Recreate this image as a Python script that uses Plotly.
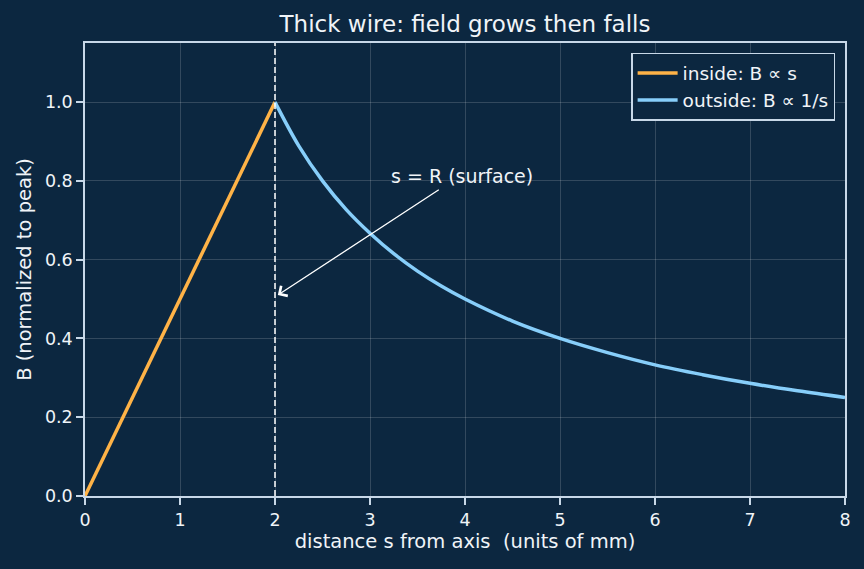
import plotly.graph_objects as go

# data
s_inside = [0.0, 2.0]
b_inside = [0.0, 1.0]
s_outside = [2.0, 2.25, 2.5, 2.75, 3.0, 3.25, 3.5, 3.75, 4.0, 4.5, 5.0, 5.5, 6.0, 6.5, 7.0, 7.5, 8.0]
b_outside = [1.0, 0.889, 0.8, 0.727, 0.667, 0.615, 0.571, 0.533, 0.5, 0.444, 0.4, 0.364, 0.333, 0.308, 0.286, 0.267, 0.25]
x_ticks = [0, 1, 2, 3, 4, 5, 6, 7, 8]
y_ticks = [0.0, 0.2, 0.4, 0.6, 0.8, 1.0]
surface_s = 2.0

BG = "#0c2740"
FG = "#f0f4f8"
SPINE = "#c8d8e8"
GRID = "rgba(255,255,255,0.16)"
FONT = "DejaVu Sans"

fig = go.Figure()
fig.add_trace(go.Scatter(x=s_inside, y=b_inside, mode="lines",
                         line=dict(color="#ffb347", width=3.5),
                         name="inside: B ∝ s"))
fig.add_trace(go.Scatter(x=s_outside, y=b_outside, mode="lines",
                         line=dict(color="#87cefa", width=3.5, shape="spline"),
                         name="outside: B ∝ 1/s"))

fig.add_shape(type="line", x0=surface_s, x1=surface_s, y0=0, y1=1, yref="y domain", xref="x",
              line=dict(color="white", width=1.5, dash="6px,3px"))

fig.add_annotation(x=2.03, y=0.51, ax=3.74, ay=0.78, axref="x", ayref="y", xref="x", yref="y",
                   text="", showarrow=True, arrowhead=4, arrowsize=1.8, arrowwidth=1.3,
                   arrowcolor="white")
fig.add_annotation(x=3.2, y=0.8, xref="x", yref="y", text="s = R (surface)", showarrow=False,
                   xanchor="left", yanchor="middle", yshift=5,
                   font=dict(family=FONT, size=19, color=FG))

axis_common = dict(
    showline=True, linecolor=SPINE, linewidth=1.5, mirror=True,
    ticks="outside", tickcolor=SPINE, ticklen=7, tickwidth=1.5,
    showgrid=True, gridcolor=GRID, gridwidth=1, zeroline=False,
    tickfont=dict(family=FONT, size=17.5, color=FG),
    automargin=False,
)

fig.update_layout(
    width=864, height=569,
    paper_bgcolor=BG, plot_bgcolor=BG,
    margin=dict(l=85, r=19, t=43, b=73),
    font=dict(family=FONT, color=FG, size=17.5),
    title=dict(text="Thick wire: field grows then falls", x=0.5, xref="paper",
               y=1 - 24 / 569, yanchor="middle",
               font=dict(family=FONT, size=23, color=FG)),
    xaxis=dict(range=[0, 8], tickvals=x_ticks, ticktext=[str(v) for v in x_ticks],
               title=dict(text="distance s from axis  (units of mm)", standoff=6,
                          font=dict(family=FONT, size=19.5, color=FG)),
               **axis_common),
    yaxis=dict(range=[0, 1.15], tickvals=y_ticks, ticktext=[f"{v:.1f}" for v in y_ticks],
               title=dict(text="B (normalized to peak)", standoff=8,
                          font=dict(family=FONT, size=19.5, color=FG)),
               **axis_common),
    legend=dict(x=0.987, y=0.978, xanchor="right", yanchor="top",
                bgcolor=BG, bordercolor=SPINE, borderwidth=1.5,
                font=dict(family=FONT, size=18.5, color=FG),
                itemwidth=40, tracegroupgap=2),
    showlegend=True,
)

fig.write_html("out.html")
